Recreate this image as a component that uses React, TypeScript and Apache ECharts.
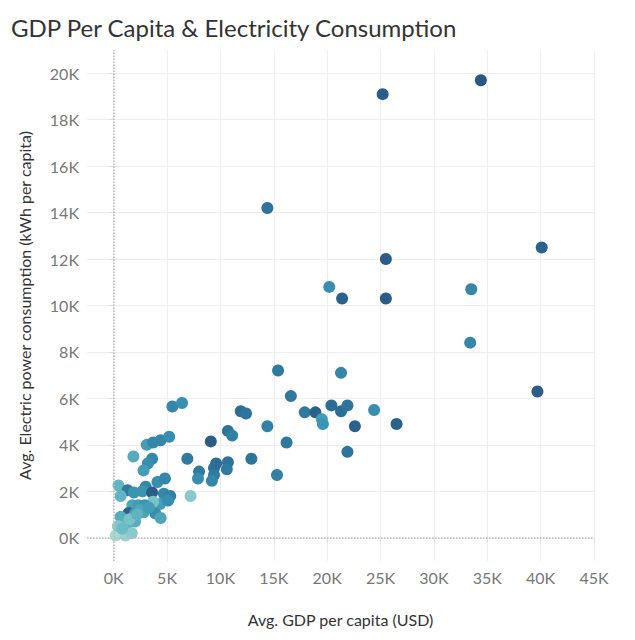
import React, { useEffect, useRef } from 'react';
import * as echarts from 'echarts';

// Avg. GDP per capita (USD)
const gdp = [
  34400, 25200, 14400, 40100, 25500, 20200, 21400, 25500, 33500, 33400, 39700,
  15400, 21300, 16600, 17900, 18900, 20400, 21300, 21900, 19500, 19600, 24400,
  14400, 22600, 26500, 16200, 15300, 21900, 11900, 12400, 10700, 11100, 9100,
  12900, 5500, 6400, 3100, 3700, 4400, 5200, 1850, 3600, 3200, 2800, 6900,
  8000, 7900, 9400, 9600, 10700, 10600, 9400, 9200, 450, 1300, 3000, 4100,
  4800, 2700, 3600, 4700, 5300, 7200, 650, 1900, 4350, 5100, 3700, 1750, 2300,
  2900, 1400, 2000, 2800, 3900, 4400, 650, 1300, 2000, 500, 200, 1100, 1700,
  400, 800, 2500, 3300, 1500, 2200,
];
// Avg. Electric power consumption (kWh per capita)
const power = [
  19700, 19100, 14200, 12500, 12000, 10800, 10300, 10300, 10700, 8400, 6300,
  7200, 7100, 6100, 5400, 5400, 5700, 5450, 5700, 5100, 4900, 5500, 4800,
  4800, 4900, 4100, 2700, 3700, 5450, 5350, 4600, 4400, 4150, 3400, 5650,
  5800, 4000, 4100, 4200, 4350, 3500, 3400, 3200, 2900, 3400, 2850, 2550,
  3000, 3200, 3250, 2950, 2700, 2450, 2250, 2050, 2200, 2400, 2550, 2000,
  1950, 1900, 1800, 1800, 1800, 1950, 1450, 1600, 1550, 1400, 1400, 1400,
  1070, 1050, 1100, 1050, 850, 900, 600, 700, 300, 100, 100, 200, 500, 400,
  1200, 1300, 800, 1000,
];
// colour shade (0 light .. 1 dark)
const shade = [
  1, 0.95, 0.75, 0.9, 0.95, 0.55, 0.9, 0.95, 0.6, 0.6, 0.95, 0.7, 0.6, 0.7,
  0.7, 0.9, 0.8, 0.8, 0.75, 0.45, 0.5, 0.55, 0.65, 0.9, 0.9, 0.7, 0.65, 0.75,
  0.8, 0.75, 0.75, 0.65, 0.95, 0.75, 0.6, 0.55, 0.45, 0.6, 0.6, 0.55, 0.35,
  0.6, 0.55, 0.45, 0.7, 0.7, 0.55, 0.75, 0.8, 0.75, 0.7, 0.7, 0.6, 0.3, 0.7,
  0.6, 0.55, 0.6, 0.5, 0.95, 0.6, 0.65, 0.15, 0.3, 0.5, 0.45, 0.55, 0.2, 0.4,
  0.45, 0.5, 0.9, 0.45, 0.4, 0.55, 0.4, 0.35, 0.3, 0.35, 0.1, 0.05, 0.1, 0.15,
  0.15, 0.25, 0.4, 0.45, 0.2, 0.3,
];
const xTicks = [0, 5000, 10000, 15000, 20000, 25000, 30000, 35000, 40000, 45000];
const yTicks = [0, 2000, 4000, 6000, 8000, 10000, 12000, 14000, 16000, 18000, 20000];

const App: React.FC = () => {
  const chartRef = useRef<HTMLDivElement>(null);

  useEffect(() => {
    if (!chartRef.current) return;
    const chart = echarts.init(chartRef.current, undefined, { renderer: 'svg' });
    const fmt = (v: number) => (v === 0 ? '0K' : v / 1000 + 'K');
    const font = 'Lato, "Open Sans", sans-serif';
    chart.setOption({
      animation: false,
      textStyle: { fontFamily: font },
      title: {
        text: 'GDP Per Capita & Electricity Consumption',
        left: -2,
        top: 2,
        textStyle: { fontSize: 24, fontWeight: 'normal', color: '#333', fontFamily: font },
      },
      grid: { left: 73, right: 33, top: 42, bottom: 70 },
      visualMap: {
        show: false,
        dimension: 2,
        min: 0,
        max: 1,
        inRange: { color: ['#b3e0d6', '#6bbcc4', '#3a95b3', '#2d739a', '#2a5783'] },
      },
      xAxis: {
        type: 'value',
        min: -2500,
        max: 45000,
        name: 'Avg. GDP per capita (USD)',
        nameLocation: 'middle',
        nameGap: 50,
        nameTextStyle: { fontSize: 16, color: '#333' },
        axisLine: { show: false },
        axisTick: { show: true, customValues: xTicks, lineStyle: { color: '#ddd' } },
        axisLabel: { customValues: xTicks, formatter: fmt, fontSize: 16, color: '#777' },
        splitLine: { show: true, lineStyle: { color: '#eee' } },
      },
      yAxis: {
        type: 'value',
        min: -1000,
        max: 21000,
        name: 'Avg. Electric power consumption (kWh per capita)',
        nameLocation: 'middle',
        nameGap: 55,
        nameTextStyle: { fontSize: 16, color: '#333' },
        axisLine: { show: false },
        axisTick: { show: true, customValues: yTicks, lineStyle: { color: '#ddd' } },
        axisLabel: { customValues: yTicks, formatter: fmt, fontSize: 16, color: '#777' },
        splitLine: { show: true, lineStyle: { color: '#eee' } },
      },
      series: [
        {
          type: 'scatter',
          symbolSize: 12,
          data: gdp.map((g, i) => [g, power[i], shade[i]]),
          itemStyle: { opacity: 1 },
          markLine: {
            silent: true,
            symbol: 'none',
            label: { show: false },
            lineStyle: { color: '#bbb', type: 'dotted', width: 1.5 },
            data: [{ xAxis: 0 }, { yAxis: 0 }],
          },
        },
      ],
    });
    return () => { chart.dispose(); };
  }, []);

  return <div ref={chartRef} style={{ width: 619, height: 624 }} />;
};

export default App;
